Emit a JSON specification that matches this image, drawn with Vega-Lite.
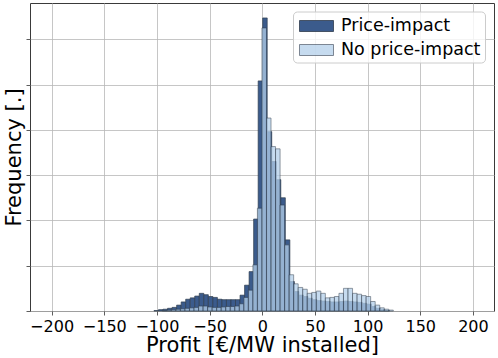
{
  "$schema": "https://vega.github.io/schema/vega-lite/v6.json",
  "autosize": {"type": "none"},
  "width": 464,
  "height": 308,
  "padding": {"left": 30, "top": 3, "right": 4, "bottom": 47},
  "background": "white",
  "config": {
    "font": "DejaVu Sans",
    "view": {"stroke": "#3a3a3a", "strokeWidth": 1},
    "axis": {"gridColor": "#b8b8b8", "gridWidth": 0.8, "domain": false, "tickColor": "#333", "tickSize": 4, "tickWidth": 0.8, "labelColor": "#000", "titleColor": "#000", "labelFont": "DejaVu Sans", "titleFont": "DejaVu Sans", "titleFontWeight": "normal", "labelFontSize": 16, "titleFontSize": 21}
  },
  "data": {"values": [
    {"s":"Price-impact","a":-102.8,"b":-98.5,"n":0.1},
    {"s":"Price-impact","a":-98.5,"b":-94.2,"n":0.3},
    {"s":"Price-impact","a":-94.2,"b":-89.9,"n":0.4},
    {"s":"Price-impact","a":-89.9,"b":-85.6,"n":0.6},
    {"s":"Price-impact","a":-85.6,"b":-81.3,"n":0.8},
    {"s":"Price-impact","a":-81.3,"b":-77.0,"n":1.3},
    {"s":"Price-impact","a":-77.0,"b":-72.7,"n":2.0},
    {"s":"Price-impact","a":-72.7,"b":-68.4,"n":2.6},
    {"s":"Price-impact","a":-68.4,"b":-64.1,"n":2.9},
    {"s":"Price-impact","a":-64.1,"b":-59.8,"n":3.3},
    {"s":"Price-impact","a":-59.8,"b":-55.5,"n":3.9},
    {"s":"Price-impact","a":-55.5,"b":-51.2,"n":3.6},
    {"s":"Price-impact","a":-51.2,"b":-46.9,"n":3.2},
    {"s":"Price-impact","a":-46.9,"b":-42.6,"n":3.0},
    {"s":"Price-impact","a":-42.6,"b":-38.3,"n":2.6},
    {"s":"Price-impact","a":-38.3,"b":-34.0,"n":2.5},
    {"s":"Price-impact","a":-34.0,"b":-29.7,"n":2.5},
    {"s":"Price-impact","a":-29.7,"b":-25.4,"n":2.5},
    {"s":"Price-impact","a":-25.4,"b":-21.1,"n":2.5},
    {"s":"Price-impact","a":-21.1,"b":-16.8,"n":3.5},
    {"s":"Price-impact","a":-16.8,"b":-12.5,"n":5.7},
    {"s":"Price-impact","a":-12.5,"b":-8.2,"n":8.7},
    {"s":"Price-impact","a":-8.2,"b":-3.9,"n":20.3},
    {"s":"Price-impact","a":-3.9,"b":0.4,"n":50.8},
    {"s":"Price-impact","a":0.4,"b":4.7,"n":64.7},
    {"s":"Price-impact","a":4.7,"b":9.0,"n":39.6},
    {"s":"Price-impact","a":9.0,"b":13.3,"n":33},
    {"s":"Price-impact","a":13.3,"b":17.6,"n":29},
    {"s":"Price-impact","a":17.6,"b":21.9,"n":25},
    {"s":"Price-impact","a":21.9,"b":26.2,"n":15.7},
    {"s":"Price-impact","a":26.2,"b":30.5,"n":6.5},
    {"s":"Price-impact","a":30.5,"b":34.8,"n":4.3},
    {"s":"Price-impact","a":34.8,"b":39.1,"n":3.5},
    {"s":"Price-impact","a":39.1,"b":43.4,"n":3.2},
    {"s":"Price-impact","a":43.4,"b":47.7,"n":2.8},
    {"s":"Price-impact","a":47.7,"b":52.0,"n":2.5},
    {"s":"Price-impact","a":52.0,"b":56.3,"n":2.3},
    {"s":"Price-impact","a":56.3,"b":60.6,"n":2.2},
    {"s":"Price-impact","a":60.6,"b":64.9,"n":2.1},
    {"s":"Price-impact","a":64.9,"b":69.2,"n":2.0},
    {"s":"Price-impact","a":69.2,"b":73.5,"n":2.0},
    {"s":"Price-impact","a":73.5,"b":77.8,"n":2.1},
    {"s":"Price-impact","a":77.8,"b":82.1,"n":2.2},
    {"s":"Price-impact","a":82.1,"b":86.4,"n":2.1},
    {"s":"Price-impact","a":86.4,"b":90.7,"n":2.0},
    {"s":"Price-impact","a":90.7,"b":95.0,"n":1.9},
    {"s":"Price-impact","a":95.0,"b":99.3,"n":1.7},
    {"s":"Price-impact","a":99.3,"b":103.6,"n":1.5},
    {"s":"Price-impact","a":103.6,"b":107.9,"n":1.0},
    {"s":"Price-impact","a":107.9,"b":112.2,"n":0.6},
    {"s":"Price-impact","a":112.2,"b":116.5,"n":0.3},
    {"s":"Price-impact","a":116.5,"b":120.8,"n":0.1},
    {"s":"No price-impact","a":-94.9,"b":-90.6,"n":0.1},
    {"s":"No price-impact","a":-90.6,"b":-86.3,"n":0.2},
    {"s":"No price-impact","a":-86.3,"b":-82.0,"n":0.3},
    {"s":"No price-impact","a":-82.0,"b":-77.7,"n":0.4},
    {"s":"No price-impact","a":-77.7,"b":-73.4,"n":0.5},
    {"s":"No price-impact","a":-73.4,"b":-69.1,"n":0.6},
    {"s":"No price-impact","a":-69.1,"b":-64.8,"n":0.7},
    {"s":"No price-impact","a":-64.8,"b":-60.5,"n":0.8},
    {"s":"No price-impact","a":-60.5,"b":-56.2,"n":1.1},
    {"s":"No price-impact","a":-56.2,"b":-51.9,"n":1.1},
    {"s":"No price-impact","a":-51.9,"b":-47.6,"n":0.9},
    {"s":"No price-impact","a":-47.6,"b":-43.3,"n":0.8},
    {"s":"No price-impact","a":-43.3,"b":-39.0,"n":0.8},
    {"s":"No price-impact","a":-39.0,"b":-34.7,"n":0.9},
    {"s":"No price-impact","a":-34.7,"b":-30.4,"n":1.0},
    {"s":"No price-impact","a":-30.4,"b":-26.1,"n":1.0},
    {"s":"No price-impact","a":-26.1,"b":-21.8,"n":1.1},
    {"s":"No price-impact","a":-21.8,"b":-17.5,"n":1.6},
    {"s":"No price-impact","a":-17.5,"b":-13.2,"n":3.0},
    {"s":"No price-impact","a":-13.2,"b":-8.9,"n":4.6},
    {"s":"No price-impact","a":-8.9,"b":-4.6,"n":10.2},
    {"s":"No price-impact","a":-4.6,"b":-0.3,"n":22.7},
    {"s":"No price-impact","a":-0.3,"b":4.0,"n":62.5},
    {"s":"No price-impact","a":4.0,"b":8.3,"n":42.6},
    {"s":"No price-impact","a":8.3,"b":12.6,"n":36.3},
    {"s":"No price-impact","a":12.6,"b":16.9,"n":35.8},
    {"s":"No price-impact","a":16.9,"b":21.2,"n":23.4},
    {"s":"No price-impact","a":21.2,"b":25.5,"n":14.6},
    {"s":"No price-impact","a":25.5,"b":29.8,"n":8.0},
    {"s":"No price-impact","a":29.8,"b":34.1,"n":6.0},
    {"s":"No price-impact","a":34.1,"b":38.4,"n":5.2},
    {"s":"No price-impact","a":38.4,"b":42.7,"n":4.8},
    {"s":"No price-impact","a":42.7,"b":47.0,"n":3.9},
    {"s":"No price-impact","a":47.0,"b":51.3,"n":4.1},
    {"s":"No price-impact","a":51.3,"b":55.6,"n":4.4},
    {"s":"No price-impact","a":55.6,"b":59.9,"n":3.9},
    {"s":"No price-impact","a":59.9,"b":64.2,"n":2.9},
    {"s":"No price-impact","a":64.2,"b":68.5,"n":3.0},
    {"s":"No price-impact","a":68.5,"b":72.8,"n":3.2},
    {"s":"No price-impact","a":72.8,"b":77.1,"n":3.9},
    {"s":"No price-impact","a":77.1,"b":81.4,"n":5.0},
    {"s":"No price-impact","a":81.4,"b":85.7,"n":5.0},
    {"s":"No price-impact","a":85.7,"b":90.0,"n":3.9},
    {"s":"No price-impact","a":90.0,"b":94.3,"n":3.7},
    {"s":"No price-impact","a":94.3,"b":98.6,"n":3.4},
    {"s":"No price-impact","a":98.6,"b":102.9,"n":3.2},
    {"s":"No price-impact","a":102.9,"b":107.2,"n":2.1},
    {"s":"No price-impact","a":107.2,"b":111.5,"n":1.3},
    {"s":"No price-impact","a":111.5,"b":115.8,"n":0.7},
    {"s":"No price-impact","a":115.8,"b":120.1,"n":0.4},
    {"s":"No price-impact","a":120.1,"b":124.4,"n":0.2}
  ]},
  "mark": {"type": "bar", "stroke": "#2e3b4c", "strokeWidth": 0.8, "strokeOpacity": 0.85},
  "encoding": {
    "x": {"field": "a", "type": "quantitative", "scale": {"domain": [-220.5, 220], "nice": false, "zero": false},
      "axis": {"values": [-200, -150, -100, -50, 0, 50, 100, 150, 200], "labelPadding": 3, "titlePadding": 0, "labelFlush": false},
      "title": "Profit [€/MW installed]"},
    "x2": {"field": "b"},
    "y": {"field": "n", "type": "quantitative", "scale": {"domain": [0, 68], "nice": false},
      "axis": {"values": [0, 10, 20, 30, 40, 50, 60], "labels": false, "titlePadding": 1},
      "title": "Frequency [.]"},
    "y2": {"datum": 0},
    "color": {"field": "s", "type": "nominal", "sort": ["Price-impact", "No price-impact"],
      "scale": {"domain": ["Price-impact", "No price-impact"], "range": ["#3b5b8c", "#b3cfea"]},
      "legend": {"title": null, "orient": "none", "legendX": 263, "legendY": 8.5,
        "symbolType": "M-1.7,-0.55H1.7V0.55H-1.7Z", "symbolSize": 400, "symbolStrokeColor": "#333", "symbolStrokeWidth": 0.8,
        "symbolOffset": 9, "labelFontSize": 17.5, "labelFont": "DejaVu Sans", "labelColor": "#000", "labelOffset": 14,
        "fillColor": "rgba(255,255,255,0.8)", "strokeColor": "#cccccc", "cornerRadius": 4, "padding": 4, "rowPadding": 5}},
    "opacity": {"field": "s", "type": "nominal", "scale": {"domain": ["Price-impact", "No price-impact"], "range": [1, 0.75]}}
  }
}
